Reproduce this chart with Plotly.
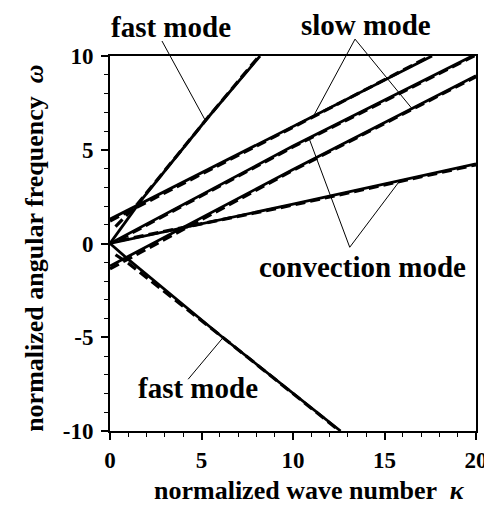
import plotly.graph_objects as go

# ---- data (normalized wave number kappa, normalized angular frequency omega) ----
k_fast_up = [0, 1.7, 5.25, 8.2]
w_fast_up = [0, 2.3, 6.6, 10.0]
k_fast_dn = [0, 1.0, 6.15, 12.6]
w_fast_dn = [0, -0.85, -5.0, -10.0]
k_slow_up = [0, 10.1, 17.6]
w_slow_up = [1.3, 6.3, 10.0]
k_slow_lo = [0, 10.0, 20.0]
w_slow_lo = [-1.2, 3.95, 8.95]
k_conv_hi = [0, 10.0, 20.0]
w_conv_hi = [0, 5.2, 10.1]
k_conv_lo = [0, 10.0, 20.0]
w_conv_lo = [0, 2.1, 4.25]

# approximate (dashed) curves
kd_fast_up = [0.3, 1.5, 5.25, 8.15]
wd_fast_up = [0.9, 2.1, 6.6, 10.0]
kd_fast_dn = [0.3, 1.0, 6.15, 12.55]
wd_fast_dn = [-0.6, -1.05, -5.0, -10.0]
kd_slow_up = [0, 10.1, 17.5]
wd_slow_up = [1.2, 6.25, 10.0]
kd_slow_lo = [0, 10.0, 20.0]
wd_slow_lo = [-1.35, 3.9, 8.9]
kd_conv_hi = [0.5, 10.0, 20.0]
wd_conv_hi = [0.2, 5.15, 10.05]
kd_conv_lo = [0.5, 10.0, 20.0]
wd_conv_lo = [0.15, 2.05, 4.2]

x_ticks = [0, 5, 10, 15, 20]
y_ticks = [-10, -5, 0, 5, 10]

FONT = "Liberation Serif"

fig = go.Figure()
solid = [(k_fast_up, w_fast_up), (k_fast_dn, w_fast_dn), (k_slow_up, w_slow_up),
         (k_slow_lo, w_slow_lo), (k_conv_hi, w_conv_hi), (k_conv_lo, w_conv_lo)]
dashed = [(kd_fast_up, wd_fast_up), (kd_fast_dn, wd_fast_dn), (kd_slow_up, wd_slow_up),
          (kd_slow_lo, wd_slow_lo), (kd_conv_hi, wd_conv_hi), (kd_conv_lo, wd_conv_lo)]
for kx, wy in solid:
    fig.add_trace(go.Scatter(x=kx, y=wy, mode="lines", showlegend=False,
                             line=dict(color="black", width=2.8)))
for kx, wy in dashed:
    fig.add_trace(go.Scatter(x=kx, y=wy, mode="lines", showlegend=False,
                             line=dict(color="black", width=3.2, dash="10px,5px")))

# leader lines (data units -> paper units)
X0, X1, Y0, Y1 = 0, 20, -10, 10
def px(k):
    return (k - X0) / (X1 - X0)
def py(w):
    return (w - Y0) / (Y1 - Y0)

leaders = [
    ((2.84, 10.8), (5.2, 6.58)),
    ((13.39, 10.9), (11.15, 6.85)),
    ((13.39, 10.9), (16.5, 7.2)),
    ((13.1, -0.2), (10.9, 5.55)),
    ((13.1, -0.2), (15.8, 3.3)),
    ((4.27, -7.24), (6.15, -5.05)),
]
for (a, b) in leaders:
    fig.add_shape(type="line", xref="paper", yref="paper",
                  x0=px(a[0]), y0=py(a[1]), x1=px(b[0]), y1=py(b[1]),
                  line=dict(color="black", width=1))

W, H = 492, 507
L, R, T, B = 102, 15, 48, 84
pw, ph = W - L - R, H - T - B
def ppx(p):
    return (p - L) / pw
def ppy(p):
    return (H - B - p) / ph

def add_label(text, cx, cy, size=29, angle=0):
    fig.add_annotation(text=text, xref="paper", yref="paper", x=ppx(cx), y=ppy(cy),
                       xanchor="center", yanchor="middle", showarrow=False,
                       textangle=angle,
                       font=dict(family=FONT, size=size, color="black", weight="bold"))

add_label("fast mode", 165, 19)
add_label("slow mode", 364, 17)
add_label("convection mode", 361, 259)
add_label("fast mode", 192, 380)
add_label("normalized wave number  <i>κ</i>", 306, 482, size=26)
add_label("normalized angular frequency  <i>ω</i>", 24, 240, size=26, angle=-90)

axis_common = dict(showline=True, linecolor="black", linewidth=2, mirror=True,
                   showgrid=False, zeroline=False, ticks="outside", ticklen=7,
                   tickwidth=1.5, tickcolor="black",
                   tickfont=dict(family=FONT, size=23, color="black", weight="bold"),
                   minor=dict(dtick=1, ticks="outside", ticklen=4, tickwidth=1,
                              tickcolor="black"))
fig.update_xaxes(range=[X0, X1], tickvals=x_ticks, ticktext=[str(v) for v in x_ticks],
                 **axis_common)
fig.update_yaxes(range=[Y0, Y1], tickvals=y_ticks, ticktext=[str(v) for v in y_ticks],
                 ticklabelstandoff=3, **axis_common)

fig.update_layout(width=W, height=H, margin=dict(l=L, r=R, t=T, b=B),
                  paper_bgcolor="white", plot_bgcolor="white")
fig.write_html("out.html")
